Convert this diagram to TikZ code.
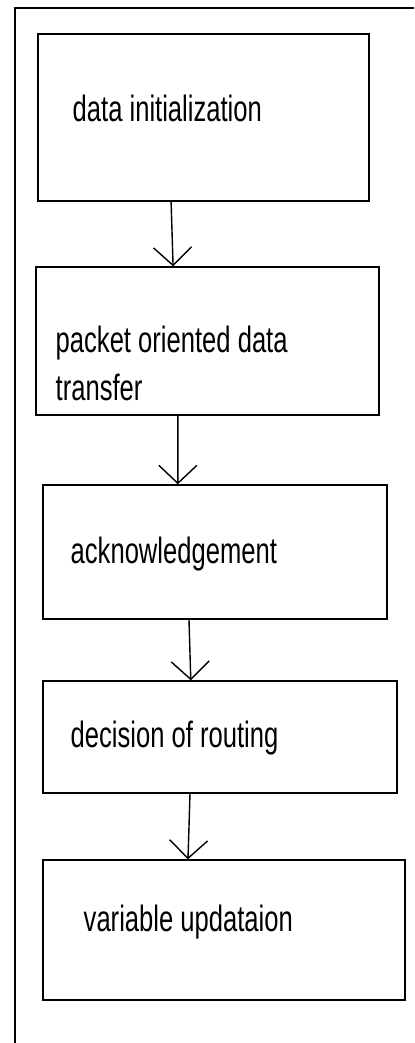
\documentclass[tikz,border=0pt]{standalone}
\usepackage{fontspec}
\usepackage{tikz}
\usetikzlibrary{fit}
\usetikzlibrary{arrows.meta}
\newfontfamily\narrowfont[FakeStretch=0.7]{Liberation Sans}

\begin{document}
\begin{tikzpicture}[
            x = 0.025cm, y = -0.025cm, % one unit per pixel
            > = {Straight Barb[length=0.45cm, width=0.95cm]}, % open arrow head
            line width = 1pt
        ]

        \tikzstyle{stage}=[
            draw,
            rectangle,
            inner sep = 0pt
        ]
        \tikzstyle{caption}=[
            inner sep = 0pt,
            anchor = base west,
            align = left,
            font = \narrowfont\fontsize{26}{34}\selectfont
        ]

        \useasboundingbox (0,0) rectangle (414,1043);

        % outer frame
        \coordinate (frameTR) at (414,8);
        \coordinate (frameTL) at (15,8);
        \coordinate (frameBL) at (15,1043);
        \draw (frameTR) -- (frameTL) -- (frameBL);

        % stages
        \node[stage, fit={(38,34) (369,201)}] (init) {};
        \node[stage, fit={(36,267) (379,415)}] (transfer) {};
        \node[stage, fit={(43,485) (387,619)}] (ack) {};
        \node[stage, fit={(43,681) (397,793)}] (route) {};
        \node[stage, fit={(43,860) (405,1000)}] (update) {};

        % labels
        \node[caption] (initText) at (72,122) {data initialization};
        \node[caption] (transferText) at (55,400) {packet oriented data\\transfer};
        \node[caption] (ackText) at (70,563) {acknowledgement};
        \node[caption] (routeText) at (70,747) {decision of routing};
        \node[caption] (updateText) at (83,931) {variable updataion};

        % flow
        \draw[->] ([xshift=-0.81cm]init.south) -- ([xshift=-0.86cm]transfer.north);
        \draw[->] ([xshift=-0.74cm]transfer.south) -- ([xshift=-0.93cm]ack.north);
        \draw[->] ([xshift=-0.65cm]ack.south) -- ([xshift=-0.73cm]route.north);
        \draw[->] ([xshift=-0.75cm]route.south) -- ([xshift=-0.9cm]update.north);

  \end{tikzpicture}
\end{document}
